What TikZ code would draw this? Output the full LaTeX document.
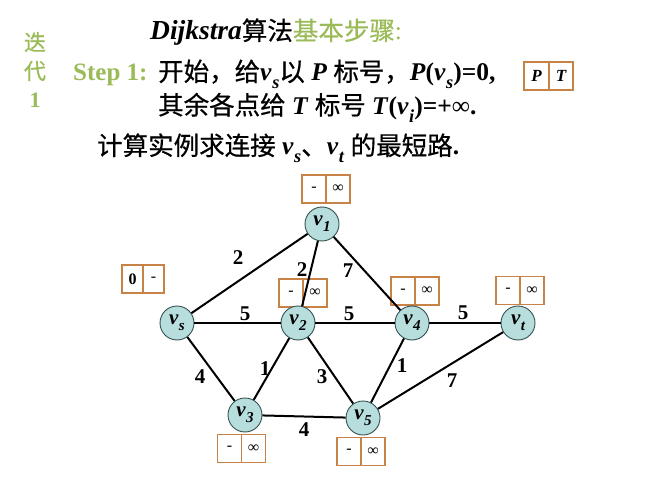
\documentclass[tikz,border=0pt]{standalone}
\usepackage{fontspec}
\setmainfont{Liberation Serif}
\newfontfamily\cjk[FakeBold=0.6]{Noto Sans CJK SC}
\definecolor{ttgreen}{RGB}{155,187,89}
\definecolor{boxc}{RGB}{200,130,70}
\definecolor{nodefill}{RGB}{183,222,221}
\definecolor{nodeline}{RGB}{50,80,80}
\newcommand\sv[1]{\textit{v}\kern0.02em\raisebox{-0.3em}{\scalebox{0.72}{\textit{#1}}}}
\begin{document}
\begin{tikzpicture}[x=1pt,y=-1pt,
  vert/.style={circle, draw=nodeline, line width=0.9pt, fill=nodefill, minimum size=34pt, inner sep=0pt, font=\fontsize{21}{21}\selectfont\bfseries\itshape},
  cell/.style={rectangle, draw=boxc, line width=1.8pt, fill=white, minimum width=24pt, minimum height=28pt, inner sep=0pt, font=\fontsize{16}{16}\selectfont},
  narrowcell/.style={cell, minimum width=21pt},
  edge/.style={line width=2pt},
  wt/.style={font=\fontsize{21}{21}\selectfont\bfseries, inner sep=0pt},
  txt/.style={anchor=base west, inner sep=0pt, font=\fontsize{25.5}{30}\selectfont},
  side/.style={inner sep=0pt, text=ttgreen, font=\fontsize{22}{22}\selectfont}
]
\path[use as bounding box] (0,0) rectangle (667,500);

% header texts
\node[side] (d1) at (35,42) {\cjk 迭};
\node[side] (d2) at (35,71) {\cjk 代};
\node[side] (d3) at (35,100) {\textbf{1}};
\node[txt] (title) at (150,40) {{\fontsize{27.5}{30}\selectfont\textbf{\textit{Dijkstra}}}{\cjk 算法}\textcolor{ttgreen}{{\cjk 基本步骤}:}};
\node[txt, text=ttgreen, font=\fontsize{25}{30}\selectfont\bfseries] (step) at (73,81) {Step 1:};
\node[txt] (line1) at (158,81) {{\cjk 开始，给}\textbf{\sv{s}}{\cjk 以} \textbf{\textit{P}} {\cjk 标号，}\textbf{\textit{P}(\sv{s})=0,}};
\node[txt] (line2) at (158,114.5) {{\cjk 其余各点给} \textbf{\textit{T}} {\cjk 标号} \textbf{\textit{T}(\sv{i})=+}∞\textbf{.}};
\node[txt] (line3) at (97,155) {{\cjk 计算实例求连接} \textbf{\sv{s}}{\cjk 、}\textbf{\sv{t}} {\cjk 的最短路}\textbf{.}};

% P T legend box
\node[cell, minimum width=24.5pt, font=\fontsize{17}{17}\selectfont\bfseries\itshape] (pa) at (536.5,76) {P};
\node[cell, minimum width=24.5pt, font=\fontsize{17}{17}\selectfont\bfseries\itshape] (pb) at (561,76) {T};

% label boxes
\node[cell] (b1a) at (314,189) {-};
\node[cell] (b1b) at (338,189) {∞};
\node[narrowcell] (bsa) at (132.5,279) {\textbf{0}};
\node[narrowcell] (bsb) at (153.5,279) {-};
\node[cell] (b2a) at (291,293) {-};
\node[cell] (b2b) at (315,293) {∞};
\node[cell] (b4a) at (403,291) {-};
\node[cell] (b4b) at (427,291) {∞};
\node[cell] (bta) at (508,290.5) {-};
\node[cell] (btb) at (532,290.5) {∞};
\node[cell] (b3a) at (229.5,448.5) {-};
\node[cell] (b3b) at (253.5,448.5) {∞};
\node[cell] (b5a) at (349,451.5) {-};
\node[cell] (b5b) at (373,451.5) {∞};

% vertices
\node[vert] (vs) at (177,323) {\sv{s}};
\node[vert] (v1) at (322,224) {\sv{1}};
\node[vert] (v2) at (298,323) {\sv{2}};
\node[vert] (v4) at (412,323) {\sv{4}};
\node[vert] (vt) at (518,323) {\sv{t}};
\node[vert] (v3) at (245,415) {\sv{3}};
\node[vert] (v5) at (363,418) {\sv{5}};

% edges
\draw[edge] (vs) -- (v1);
\draw[edge] (vs) -- (v2);
\draw[edge] (vs) -- (v3);
\draw[edge] (v1) -- (v2);
\draw[edge] (v1) -- (v4);
\draw[edge] (v2) -- (v4);
\draw[edge] (v2) -- (v3);
\draw[edge] (v2) -- (v5);
\draw[edge] (v3) -- (v5);
\draw[edge] (v4) -- (v5);
\draw[edge] (v4) -- (vt);
\draw[edge] (v5) -- (vt);

% weights
\node[wt] (w1) at (238,258) {2};
\node[wt] (w2) at (302,270) {2};
\node[wt] (w3) at (348,271) {7};
\node[wt] (w4) at (245,314) {5};
\node[wt] (w5) at (349,314) {5};
\node[wt] (w6) at (463,313) {5};
\node[wt] (w7) at (200,377) {4};
\node[wt] (w8) at (265,369) {1};
\node[wt] (w9) at (322,377) {3};
\node[wt] (w10) at (402,366) {1};
\node[wt] (w11) at (452,381) {7};
\node[wt] (w12) at (304,430) {4};
\end{tikzpicture}
\end{document}
